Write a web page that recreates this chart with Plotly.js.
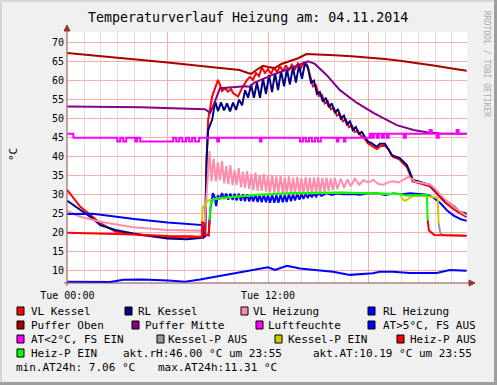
<!DOCTYPE html>
<html><head><meta charset="utf-8">
<script src="https://cdn.plot.ly/plotly-3.0.1.min.js"></script>
<style>html,body{margin:0;padding:0;background:#F0F0F0;}#chart{width:497px;height:385px;}</style>
</head><body><div id="chart"></div>
<script>
// ---- data: [hour of day, value] ----
const vlKessel = [[0,31.2],[0.78,26.8],[1.37,24.7],[1.97,22.5],[2.87,20.3],[4.36,19.4],[5.85,18.8],[7.34,19.0],[7.94,18.8],[8.12,18.6],[8.24,20],[8.30,35],[8.42,49.7],[8.66,55.8],[8.84,58.1],[9.01,60.2],[9.13,58.9],[9.25,57.3],[9.43,58.0],[9.61,57.1],[9.79,57.8],[9.91,56.7],[10.21,55.8],[10.45,58.1],[10.75,60.2],[10.93,61.0],[11.1,60.2],[11.28,62.0],[11.46,61.2],[11.64,63.5],[11.82,62.0],[12.0,63.0],[12.18,61.8],[12.36,63.5],[12.54,62.2],[12.72,63.8],[12.9,62.5],[13.07,64.0],[13.25,62.8],[13.43,64.2],[13.61,63.0],[13.79,64.5],[13.97,63.3],[14.15,64.8],[14.33,64.2],[14.5,61.5],[14.69,58.5],[14.87,58.8],[15.04,56],[15.22,56.3],[15.4,54],[15.58,54.5],[15.76,52.5],[15.94,52.8],[16.12,50.8],[16.3,51.2],[16.48,49.3],[16.66,49.8],[16.84,47.8],[17.01,48.2],[17.19,46.5],[17.37,46.8],[17.55,45.5],[17.73,45.0],[17.97,43.5],[18.51,42],[18.75,42.8],[19.04,42.8],[19.28,41.5],[19.46,40],[19.88,39.2],[20.3,37.3],[20.48,35.5],[20.66,33.5],[21.07,33],[21.67,32.2],[22.09,30.3],[22.57,28],[23.16,26],[23.88,24.1]];
const rlKessel = [[0,28.4],[0.78,26.0],[1.49,23.8],[1.97,22.0],[2.87,20.7],[3.94,19.8],[5.97,18.5],[7.16,18.3],[7.94,18.6],[8.24,19],[8.33,40],[8.42,47],[8.66,49.7],[8.84,54.5],[9.01,52.0],[9.19,54.3],[9.37,52.2],[9.55,54.0],[9.73,51.9],[9.91,54.2],[10.09,52.3],[10.27,55.0],[10.45,53.5],[10.63,57.5],[10.81,55.5],[10.99,59.0],[11.16,55.5],[11.34,59.5],[11.52,55.5],[11.70,60.5],[11.88,56.5],[12.06,61.5],[12.24,57.0],[12.42,62],[12.6,57.5],[12.78,62.5],[12.96,58.5],[13.13,63],[13.31,59],[13.49,63.5],[13.67,59.5],[13.85,64],[14.03,60.5],[14.21,64.5],[14.39,63.5],[14.57,59.5],[14.75,60],[14.93,56.5],[15.1,57],[15.28,54.5],[15.46,55.5],[15.64,53],[15.82,54],[16.0,51.5],[16.18,52.5],[16.36,50],[16.54,50.8],[16.72,48.5],[16.9,49.3],[17.07,47],[17.25,47.8],[17.43,46],[17.61,46.5],[17.79,45.2],[17.97,44],[18.21,43.5],[18.51,42.6],[18.69,43.4],[18.99,43.4],[19.16,42.2],[19.4,40.4],[19.88,39.6],[20.3,37.8],[20.48,36],[20.66,33.9],[21.07,33.4],[21.67,32.6],[22.09,30.8],[22.57,28.6],[23.16,26.8],[23.46,25.5],[23.88,25.0]];
const vlHeizung = [[0,25.7],[0.78,24.2],[1.97,22.9],[3.94,21.4],[5.97,20.7],[7.94,20.4],[8.18,20.5],[8.33,30],[8.50,41.5],[8.62,33.5],[8.75,39.5],[8.88,33.5],[9.0,38.5],[9.12,33.8],[9.25,38.8],[9.38,33],[9.5,37.5],[9.62,32.8],[9.75,37.8],[9.88,32.5],[10.0,36.5],[10.12,32.5],[10.25,37],[10.38,32],[10.5,36],[10.62,31.8],[10.75,36.2],[10.88,31.5],[11.0,35.5],[11.12,31.2],[11.25,35.8],[11.38,31],[11.5,35.2],[11.62,31],[11.75,35.5],[11.88,30.8],[12.0,35],[12.12,30.6],[12.25,35.2],[12.38,30.5],[12.5,34.8],[12.62,30.4],[12.75,35],[12.88,30.3],[13.0,34.6],[13.12,30.2],[13.25,34.8],[13.38,30.2],[13.5,34.5],[13.62,30.1],[13.75,34.7],[13.88,30.2],[14.0,34.4],[14.12,30.1],[14.25,34.6],[14.38,30.3],[14.5,34.5],[14.62,30.3],[14.75,34.5],[14.88,30.5],[15.0,34.6],[15.12,30.6],[15.25,34.4],[15.38,30.8],[15.5,34.5],[15.62,31],[15.75,34.3],[15.88,31.2],[16.0,34.4],[16.15,31.5],[16.35,34.2],[16.55,31.8],[16.75,34],[16.95,32.2],[17.2,34.2],[17.45,32.6],[17.7,33.8],[18.0,33.2],[18.3,33.9],[18.6,32.8],[18.9,32.6],[19.2,33.3],[19.5,33.5],[19.8,33.2],[20.1,34],[20.4,34.7],[20.6,34.2],[20.8,33.4],[21.1,33.2],[21.4,33.0],[21.7,32.6],[22.0,31.5],[22.3,30.0],[22.7,28.3],[23.1,26.8],[23.5,25.5],[23.88,24.5]];
const rlHeizung = [[0,24.9],[1.5,25],[2,24.7],[4,23.6],[6,22.7],[7.9,22.2],[8.1,22.0],[8.15,19.5],[8.45,19.3],[8.55,26],[8.7,30.4],[8.8,29.5],[8.9,27.0],[9.0,29.8],[9.12,28.8],[9.25,30.4],[9.38,28.9],[9.5,30.3],[9.62,28.7],[9.75,30.3],[9.88,28.6],[10.0,30.2],[10.12,28.5],[10.25,30.2],[10.38,28.4],[10.5,30.1],[10.62,28.3],[10.75,30.1],[10.88,28.2],[11.0,30.0],[11.12,28.2],[11.25,30.0],[11.38,28.1],[11.5,30.0],[11.62,28.0],[11.75,30.0],[11.88,28.0],[12.0,29.9],[12.12,27.9],[12.25,29.9],[12.38,27.9],[12.5,29.9],[12.62,27.9],[12.75,30.0],[12.88,28.0],[13.0,30.0],[13.12,28.1],[13.25,30.1],[13.38,28.3],[13.5,30.1],[13.62,28.5],[13.75,30.2],[13.88,28.7],[14.0,30.2],[14.12,28.9],[14.25,30.3],[14.38,29.1],[14.5,30.3],[14.62,29.3],[14.75,30.3],[14.88,29.5],[15.0,30.4],[15.2,29.7],[15.5,30.4],[15.8,29.9],[16.1,30.3],[16.5,30.1],[17.0,30.2],[17.5,30.0],[18.0,30.3],[18.5,30.4],[19.0,29.9],[19.5,30.3],[20.0,30.1],[20.5,30.4],[21.0,30.2],[21.5,30.0],[21.9,29.2],[22.3,27.8],[22.7,25.9],[23.1,24.5],[23.5,23.6],[23.88,23.1]];
const pufferOben = [[0,67.3],[3,66.1],[6,64.8],[9,63.4],[10.3,62.8],[10.8,62.0],[11.0,61.8],[11.3,62.8],[11.7,63.9],[12.0,63.6],[12.4,63.3],[12.8,64.4],[13.3,65.2],[13.8,65.9],[14.3,67.0],[15,66.9],[16,66.7],[17,66.4],[18,66.1],[19,65.7],[20,65.2],[21,64.6],[22,63.9],[23,63.2],[23.88,62.6]];
const pufferMitte = [[0,53.2],[4.36,53.0],[8.24,52.5],[8.54,51.5],[8.78,54],[9.13,58.0],[10.63,58.5],[10.9,58.4],[11.2,59.5],[12.3,61.6],[13.3,63.2],[14.2,64.8],[14.4,65.1],[14.8,64.4],[15.5,61.5],[16.3,57.5],[17.3,54.2],[18.3,51.5],[19.0,49.8],[19.7,48.3],[20.7,47.0],[21.5,46.4],[22.3,46.1],[23.88,46.0]];
const luftfeuchte = [[0,46],[0.36,45],[2.99,44],[3.16,45],[3.34,44],[3.52,45],[4.06,44],[4.18,45],[4.36,44],[6.33,45],[6.51,44],[6.69,45],[6.87,44],[7.1,45],[7.28,44],[7.46,45],[7.64,44],[7.88,45],[8.96,44],[9.07,45],[11.52,44],[11.61,45],[13.91,44],[14.09,45],[14.27,44],[14.45,45],[14.63,44],[14.81,45],[14.99,44],[15.16,45],[16.12,44],[16.21,45],[16.54,44],[16.63,45],[18.09,46],[18.21,45],[18.33,46],[18.51,45],[18.63,46],[18.81,45],[18.93,46],[19.1,45],[19.22,46],[20.12,45],[20.24,46],[21.67,47],[21.79,46],[22.09,45],[22.21,46],[23.28,47],[23.4,46],[23.88,46]];
const aussen = [[0,7.06],[2.57,7.0],[3.34,7.6],[4.54,7.7],[6.03,7.4],[7.04,7.1],[7.94,7.7],[9.55,8.9],[10.93,10.0],[12.0,10.9],[12.42,10.2],[13.13,11.3],[13.91,10.6],[15.88,9.7],[16.9,8.9],[18.27,9.3],[18.69,9.7],[19.46,9.7],[20.48,9.4],[22.09,9.4],[22.87,10.2],[23.88,10.0]];
const kesselPEin = [[8.06,20.5],[8.08,26.5],[8.4,28.4],[8.75,28.8],[9.3,29.2],[11.3,29.9],[13.3,30.3],[16.3,30.5],[18.3,30.3],[19.9,30.1],[20.05,28.8],[20.2,28.4],[20.45,29.1],[20.7,29.7],[21.5,29.6],[22.0,29.4],[22.15,29.2],[22.2,22.5]];
const kesselPAus = [[22.2,22.5],[22.3,20.0],[22.45,19.4],[23.88,19.2]];
const heizPAus = [[0,20.0],[2,19.8],[4,19.5],[6,19.1],[7.94,18.9],[8.04,18.9],[8.06,22.7],[8.2,22.5],[8.24,19.5],[8.45,19.3],[8.5,23.3],[8.51,null],[21.55,23.3],[21.62,20.6],[21.95,19.4],[23.88,19.2]];
const heizPEin = [[8.5,23.3],[8.6,28.4],[8.9,28.9],[9.3,29.1],[10.3,29.6],[11.3,30.0],[12.3,30.2],[13.3,30.4],[14.8,30.5],[16.3,30.6],[18.3,30.4],[19.9,30.2],[20.2,29.8],[21.5,29.9],[21.55,23.3]];

const yTicks = [10,15,20,25,30,35,40,45,50,55,60,65,70];
const xTickVals = [0,6,12,18];
const xTickText = ['Tue 00:00','','Tue 12:00',''];
const titleText = 'Temperaturverlauf Heizung am: 04.11.2014';
const legendItems = [
  ['VL Kessel','#FF0000'],['RL Kessel','#000080'],['VL Heizung','#FF8CAA'],['RL Heizung','#0000FF'],
  ['Puffer Oben','#AA0000'],['Puffer Mitte','#880088'],['Luftfeuchte','#FF00FF'],['AT>5°C, FS AUS','#0000FF'],
  ['AT<2°C, FS EIN','#FF00FF'],['Kessel-P AUS','#999999'],['Kessel-P EIN','#CCCC00'],['Heiz-P AUS','#FF0000'],
  ['Heiz-P EIN','#00FF00']
];
const infoTexts = ['akt.rH:46.00 °C um 23:55','akt.AT:10.19 °C um 23:55','min.AT24h: 7.06 °C','max.AT24h:11.31 °C'];

// ---- layout helpers ----
const L=67, R=30, T=32, B=102, PW=400, PH=251;
const px = x => (x-L)/PW;
const py = y => (T+PH-y)/PH;
const MONO = 'DejaVu Sans Mono, monospace';

function tr(data, color, shape){
  return {x:data.map(d=>d[0]), y:data.map(d=>d[1]), type:'scatter', mode:'lines',
    line:{color:color, width:2, shape:shape||'linear'}, connectgaps:false, hoverinfo:'skip'};
}
const traces = [
  tr(vlKessel,'#FF0000'),
  tr(rlKessel,'#000080'),
  tr(vlHeizung,'#FF8CAA'),
  tr(rlHeizung,'#0000FF'),
  tr(pufferOben,'#AA0000'),
  tr(pufferMitte,'#880088'),
  tr(luftfeuchte,'#FF00FF','hv'),
  tr(aussen,'#0000FF'),
  tr(kesselPAus,'#999999'),
  tr(kesselPEin,'#CCCC00'),
  tr(heizPAus,'#FF0000'),
  tr(heizPEin,'#00FF00')
];

const shapes = [];
const annotations = [];
// frame
shapes.push({type:'rect',xref:'paper',yref:'paper',x0:px(0),x1:px(497),y0:py(0),y1:py(2),fillcolor:'#D6D6D6',line:{width:0}});
shapes.push({type:'rect',xref:'paper',yref:'paper',x0:px(0),x1:px(2),y0:py(0),y1:py(385),fillcolor:'#D6D6D6',line:{width:0}});
shapes.push({type:'rect',xref:'paper',yref:'paper',x0:px(494),x1:px(497),y0:py(0),y1:py(385),fillcolor:'#9E9E9E',line:{width:0}});
shapes.push({type:'rect',xref:'paper',yref:'paper',x0:px(0),x1:px(497),y0:py(382),y1:py(385),fillcolor:'#9E9E9E',line:{width:0}});
// axes with arrows
const AX='#8A4A4A';
shapes.push({type:'line',xref:'paper',yref:'paper',x0:0,x1:0,y0:py(286),y1:py(28),line:{color:AX,width:1},layer:'above'});
shapes.push({type:'line',xref:'paper',yref:'paper',x0:px(64),x1:px(470),y0:0,y1:0,line:{color:AX,width:1},layer:'above'});
shapes.push({type:'path',xref:'paper',yref:'paper',path:`M ${px(64)} ${py(31)} L ${px(70)} ${py(31)} L ${px(67)} ${py(25)} Z`,fillcolor:'#993333',line:{color:'#993333',width:1},layer:'above'});
shapes.push({type:'path',xref:'paper',yref:'paper',path:`M ${px(469)} ${py(280)} L ${px(469)} ${py(286)} L ${px(475)} ${py(283)} Z`,fillcolor:'#993333',line:{color:'#993333',width:1},layer:'above'});

// title and side texts
annotations.push({text:titleText,xref:'paper',yref:'paper',x:px(247.5),y:py(17),xanchor:'center',yanchor:'middle',showarrow:false,font:{family:MONO,size:13.3,color:'#000'}});
annotations.push({text:'°C',xref:'paper',yref:'paper',x:px(13),y:py(155),xanchor:'center',yanchor:'middle',textangle:-90,showarrow:false,font:{family:MONO,size:11,color:'#000'}});
annotations.push({text:'RRDTOOL / TOBI OETIKER',xref:'paper',yref:'paper',x:px(487),y:py(64),xanchor:'center',yanchor:'middle',textangle:90,showarrow:false,font:{family:MONO,size:8,color:'#AAAAAA'}});

// legend (rrdtool style)
const legPos = [
  [17,31,311],[125,138,311],[241,253,311],[368,383,311],
  [17,31,325],[132,145,325],[256,268,325],[368,383,325],
  [17,31,339],[157,168,339],[275,288,339],[397,410,339],
  [17,31,353]
];
legendItems.forEach((it,i)=>{
  const [sx,tx,ry]=legPos[i];
  shapes.push({type:'rect',xref:'paper',yref:'paper',x0:px(sx),x1:px(sx+7),y0:py(ry-4),y1:py(ry+4),fillcolor:it[1],line:{color:'#000',width:1}});
  annotations.push({text:it[0],xref:'paper',yref:'paper',x:px(tx-2),y:py(ry),xanchor:'left',yanchor:'middle',showarrow:false,font:{family:MONO,size:11,color:'#000'}});
});
const infoPos = [[123,353],[313,353],[16,367],[158,367]];
infoTexts.forEach((t,i)=>{
  annotations.push({text:t,xref:'paper',yref:'paper',x:px(infoPos[i][0]-2),y:py(infoPos[i][1]),xanchor:'left',yanchor:'middle',showarrow:false,font:{family:MONO,size:11,color:'#000'}});
});

const layout = {
  width:497, height:385, margin:{l:L,r:R,t:T,b:B,pad:0},
  paper_bgcolor:'#F0F0F0', plot_bgcolor:'#FFFFFF', showlegend:false,
  xaxis:{range:[-0.02,23.9], tickmode:'array', tickvals:xTickVals, ticktext:xTickText,
    showgrid:true, gridcolor:'#F2B0B0', gridwidth:1, zeroline:false, showline:false, ticks:'',
    ticklabelstandoff:5,
    tickfont:{family:MONO,size:10,color:'#000'},
    minor:{tickmode:'linear', tick0:0, dtick:1, showgrid:true, gridcolor:'#DDDDDD', gridwidth:1}},
  yaxis:{range:[6.76,72.8], tickmode:'array', tickvals:yTicks, ticktext:yTicks.map(String),
    showgrid:true, gridcolor:'#F2B0B0', gridwidth:1, zeroline:false, showline:false, ticks:'',
    ticklabelstandoff:2,
    tickfont:{family:MONO,size:10,color:'#000'}},
  shapes:shapes, annotations:annotations
};
Plotly.newPlot('chart', traces, layout, {staticPlot:true, displayModeBar:false});
</script></body></html>
